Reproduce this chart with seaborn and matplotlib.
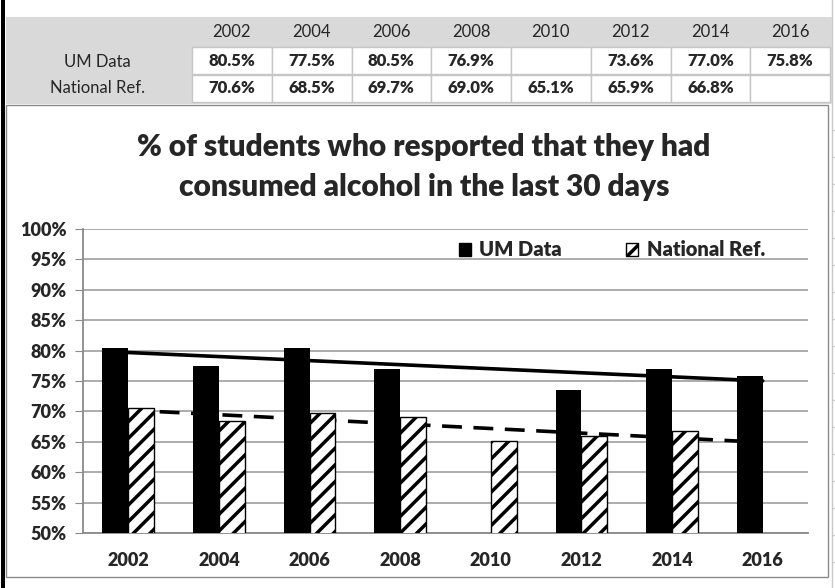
import numpy as np
import pandas as pd
import matplotlib
matplotlib.use("Agg")
import matplotlib.pyplot as plt
from matplotlib.patches import Rectangle, Patch
import seaborn as sns

sns.set_style("white")
plt.rcParams['font.family'] = ['Lato', 'DejaVu Sans']
plt.rcParams['hatch.linewidth'] = 2.5

years = ['2002', '2004', '2006', '2008', '2010', '2012', '2014', '2016']
um_data = [80.5, 77.5, 80.5, 76.9, np.nan, 73.6, 77.0, 75.8]
nat_ref = [70.6, 68.5, 69.7, 69.0, 65.1, 65.9, 66.8, np.nan]
series = ['UM Data', 'National Ref.']
yticks = [50, 55, 60, 65, 70, 75, 80, 85, 90, 95, 100]

df = pd.DataFrame({
    'year': years * 2,
    'value': um_data + nat_ref,
    'series': [series[0]] * len(years) + [series[1]] * len(years),
})

W, H = 835, 588
BOLD = 'heavy'
fig = plt.figure(figsize=(W / 100, H / 100), dpi=100)


def px_rect(x, y, w, h, **kw):
    # rectangle given in pixels from the top-left corner
    r = Rectangle((x / W, 1 - (y + h) / H), w / W, h / H,
                  transform=fig.transFigure, zorder=-10, **kw)
    fig.patches.append(r)
    return r


def px_text(x, y, s, **kw):
    return fig.text(x / W, 1 - y / H, s, **kw)


# spreadsheet table above the chart
px_rect(6, 17, 826, 87, facecolor='#d9d9d9', edgecolor='none')
col_w = (830 - 192) / len(years)
for i, yr in enumerate(years):
    x0 = 192 + i * col_w
    px_text(x0 + col_w / 2, 32, yr, ha='center', va='center', fontsize=12)
    for j, vals in enumerate([um_data, nat_ref]):
        px_rect(x0, 47 + j * 28, col_w, 27, facecolor='white', edgecolor='#c6c6c6', lw=1)
        v = vals[i]
        if not np.isnan(v):
            px_text(x0 + col_w / 2, 61 + j * 27, f'{v:.1f}%', ha='center', va='center',
                    fontsize=12, fontweight=BOLD)
px_text(97, 62, 'UM Data', ha='center', va='center', fontsize=12)
px_text(97, 88, 'National Ref.', ha='center', va='center', fontsize=12)

# sheet gridlines and chart frame
fig.add_artist(plt.Line2D([832 / W, 832 / W], [0, 1], transform=fig.transFigure,
                          color='#c8c8c8', lw=1, zorder=-10))
for yy in [130, 157, 184, 211, 238, 265, 292, 319, 346, 373, 400, 427, 454, 481, 508, 535, 562]:
    fig.add_artist(plt.Line2D([832 / W, 1], [1 - yy / H, 1 - yy / H], transform=fig.transFigure,
                              color='#c8c8c8', lw=1, zorder=-10))
px_rect(6, 105, 822, 472, facecolor='white', edgecolor='#8a8a8a', lw=1)
px_rect(1, 0, 4, H, facecolor='black', edgecolor='none')

px_text(424, 147, '% of students who resported that they had', ha='center', va='center',
        fontsize=21.5, fontweight=BOLD)
px_text(424, 187, 'consumed alcohol in the last 30 days', ha='center', va='center',
        fontsize=21.5, fontweight=BOLD)

ax = fig.add_axes([83 / W, 1 - 533 / H, 725 / W, 304 / H])
ax.set_zorder(5)
ax.patch.set_alpha(0)
sns.barplot(data=df, x='year', y='value', hue='series', order=years, hue_order=series,
            palette={'UM Data': 'black', 'National Ref.': 'white'}, width=0.57,
            edgecolor='black', linewidth=1, legend=False, ax=ax, zorder=3)
for bar in ax.containers[1]:
    bar.set_hatch('//')
for bar in ax.containers[0]:
    bar.set_linewidth(0)

# linear trendlines (as in the spreadsheet)
xi = np.arange(len(years))
for vals, ls in [(um_data, '-'), (nat_ref, (0, (5.5, 3.2)))]:
    v = np.array(vals)
    ok = ~np.isnan(v)
    k, b = np.polyfit(xi[ok] + 1, v[ok], 1)
    ax.plot([0, 7], [k * 1 + b, k * 8 + b], color='black', lw=2.6, ls=ls, zorder=2)

ax.set_ylim(50, 100)
ax.set_xlim(-0.5, 7.5)
ax.set_yticks(yticks)
ax.set_yticklabels([f'{t}%' for t in yticks], fontsize=13, fontweight=BOLD)
ax.set_xticks(xi)
ax.set_xticklabels(years, fontsize=13, fontweight=BOLD)
ax.set_xticks(np.arange(-0.5, 8, 1), minor=True)
ax.tick_params(axis='x', which='major', length=0, pad=14)
ax.tick_params(axis='x', which='minor', length=6, color='#8a8a8a', direction='out')
ax.tick_params(axis='y', length=6, color='#8a8a8a', direction='out', pad=6, left=True)
ax.set_xlabel('')
ax.set_ylabel('')
ax.grid(axis='y', color='#a6a6a6', lw=1.3, zorder=0)
ax.set_axisbelow(True)
for s in ['top', 'right']:
    ax.spines[s].set_visible(False)
for s in ['left', 'bottom']:
    ax.spines[s].set_color('#8a8a8a')
    ax.spines[s].set_linewidth(1.3)

handles = [Patch(facecolor='black', edgecolor='black', label=series[0]),
           Patch(facecolor='white', edgecolor='black', hatch='//', label=series[1])]
ax.legend(handles=handles, ncol=2, loc='center', frameon=False,
          bbox_to_anchor=(612 / W, 1 - 250 / H), bbox_transform=fig.transFigure,
          prop={'weight': BOLD, 'size': 14.5}, handlelength=0.6, handleheight=0.6,
          handletextpad=0.4, columnspacing=3.2)

fig.savefig('out.png', dpi=100)
